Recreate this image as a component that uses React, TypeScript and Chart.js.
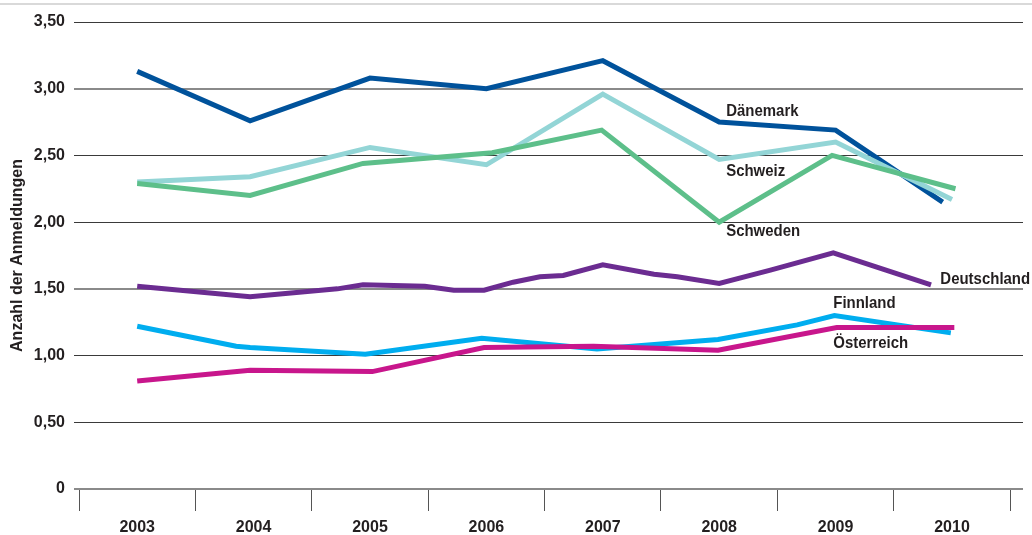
import React, { useEffect, useRef } from "react";
import { Chart, registerables } from "chart.js";

Chart.register(...registerables);

// ---- data (x = year position, y = Anzahl der Anmeldungen) ----
const years = [2003, 2004, 2005, 2006, 2007, 2008, 2009, 2010];
const yTicks = [0, 0.5, 1, 1.5, 2, 2.5, 3, 3.5];

const daenemark: [number, number][] = [
  [2003, 3.13], [2003.97, 2.76], [2005, 3.08], [2006, 3.0], [2007, 3.21],
  [2008, 2.75], [2009, 2.69], [2009.92, 2.15],
];
const schweiz: [number, number][] = [
  [2003, 2.3], [2003.97, 2.34], [2005, 2.56], [2006, 2.43], [2007, 2.96],
  [2008, 2.47], [2009, 2.6], [2010, 2.17],
];
const schweden: [number, number][] = [
  [2003, 2.29], [2003.97, 2.2], [2004.94, 2.44], [2006.05, 2.52], [2006.99, 2.69],
  [2008, 2.0], [2008.97, 2.5], [2010.03, 2.25],
];
const deutschland: [number, number][] = [
  [2003, 1.52], [2003.97, 1.44], [2004.72, 1.5], [2004.94, 1.53], [2005.47, 1.52],
  [2005.72, 1.49], [2005.98, 1.49], [2006.23, 1.55], [2006.46, 1.59], [2006.66, 1.6],
  [2007, 1.68], [2007.44, 1.61], [2007.64, 1.59], [2008, 1.54], [2008.44, 1.64],
  [2008.98, 1.77], [2009.82, 1.53],
];
const finnland: [number, number][] = [
  [2003, 1.22], [2003.85, 1.07], [2003.97, 1.06], [2004.96, 1.01], [2005.96, 1.13],
  [2006.95, 1.05], [2007.99, 1.12], [2008.67, 1.23], [2008.99, 1.3], [2009.99, 1.17],
];
const oesterreich: [number, number][] = [
  [2003, 0.81], [2003.97, 0.89], [2005.02, 0.88], [2005.98, 1.06], [2006.92, 1.07],
  [2007.99, 1.04], [2009.01, 1.21], [2010.02, 1.21],
];

// ---- series styling & direct labels ----
const series = [
  { name: "Österreich", pts: oesterreich, color: "#c8168c" },
  { name: "Finnland", pts: finnland, color: "#00adef" },
  { name: "Deutschland", pts: deutschland, color: "#6b2c91" },
  { name: "Schweden", pts: schweden, color: "#5dbf8a" },
  { name: "Schweiz", pts: schweiz, color: "#93d5d6" },
  { name: "Dänemark", pts: daenemark, color: "#00529b" },
];

const seriesLabels = [
  { text: "Dänemark", x: 2008.06, y: 2.83 },
  { text: "Schweiz", x: 2008.06, y: 2.38 },
  { text: "Schweden", x: 2008.06, y: 1.93 },
  { text: "Deutschland", x: 2009.9, y: 1.57 },
  { text: "Finnland", x: 2008.98, y: 1.39 },
  { text: "Österreich", x: 2008.98, y: 1.09 },
];

const SANS = "'Liberation Sans', Arial, Helvetica, sans-serif";
const TEXT = "#231f20";

export default function App() {
  const ref = useRef<HTMLCanvasElement | null>(null);

  useEffect(() => {
    if (!ref.current) return;

    const topLine = {
      id: "topLine",
      beforeDraw(chart: any) {
        const ctx = chart.ctx;
        ctx.save();
        ctx.fillStyle = "#fff";
        ctx.fillRect(0, 0, chart.width, chart.height);
        ctx.fillStyle = "#d9d9d9";
        ctx.fillRect(0, 3, chart.width, 2);
        ctx.restore();
      },
    };

    const labelPlugin = {
      id: "seriesLabels",
      afterDatasetsDraw(chart: any) {
        const ctx = chart.ctx;
        const xs = chart.scales.x;
        const ys = chart.scales.y;
        const sx = 0.88;
        ctx.save();
        ctx.font = `bold 17px ${SANS}`;
        ctx.fillStyle = TEXT;
        ctx.textAlign = "left";
        ctx.textBaseline = "middle";
        for (const l of seriesLabels) {
          const px = xs.getPixelForValue(l.x);
          const py = ys.getPixelForValue(l.y);
          ctx.save();
          ctx.translate(px, py);
          ctx.scale(sx, 1);
          ctx.fillText(l.text, 0, 0);
          ctx.restore();
        }
        ctx.restore();
      },
    };

    const chart = new Chart(ref.current, {
      type: "line",
      data: {
        datasets: series.map((s) => ({
          label: s.name,
          data: s.pts.map(([x, y]) => ({ x, y })),
          borderColor: s.color,
          backgroundColor: s.color,
          borderWidth: 5,
          pointRadius: 0,
          tension: 0,
          fill: false,
          borderJoinStyle: "miter" as const,
        })),
      },
      options: {
        responsive: false,
        animation: false,
        devicePixelRatio: 1,
        layout: { padding: { top: 22, right: 9, left: 0, bottom: 0 } },
        plugins: {
          legend: { display: false },
          tooltip: { enabled: false },
        },
        scales: {
          x: {
            type: "linear",
            min: 2002.5,
            max: 2010.61,
            afterBuildTicks: (scale: any) => {
              const t: any[] = [];
              for (let i = 0; i <= years.length; i++) {
                t.push({ value: years[0] - 0.5 + i });
                if (i < years.length) t.push({ value: years[i] });
              }
              scale.ticks = t;
            },
            afterFit: (scale: any) => {
              scale.height = 46;
            },
            ticks: {
              autoSkip: false,
              maxRotation: 0,
              minRotation: 0,
              padding: 7,
              color: TEXT,
              font: { family: SANS, size: 16, weight: "bold" },
              callback: (v: any) => (Number.isInteger(v) ? String(v) : ""),
            },
            grid: {
              drawOnChartArea: false,
              drawTicks: true,
              tickLength: 22,
              lineWidth: 1,
              color: (ctx: any) =>
                ctx.tick && Number.isInteger(ctx.tick.value) ? "rgba(0,0,0,0)" : "#555",
            },
            border: { display: false },
          },
          y: {
            min: 0,
            max: 3.5,
            afterBuildTicks: (scale: any) => {
              scale.ticks = yTicks.map((v) => ({ value: v }));
            },
            afterFit: (scale: any) => {
              scale.width = 79;
            },
            ticks: {
              padding: 9,
              color: TEXT,
              font: { family: SANS, size: 16, weight: "bold" },
              callback: (v: any) => (v === 0 ? "0" : Number(v).toFixed(2).replace(".", ",")),
            },
            grid: {
              drawTicks: true,
              tickLength: 5,
              color: (ctx: any) => {
                const v = ctx.tick ? ctx.tick.value : -1;
                return v === 0 || v === 1.5 || v === 3 ? "#8a8a8a" : "#3a3a3a";
              },
              lineWidth: (ctx: any) => {
                const v = ctx.tick ? ctx.tick.value : -1;
                return v === 0 || v === 1.5 || v === 3 ? 2 : 1;
              },
            },
            border: { display: false },
            title: {
              display: true,
              text: "Anzahl der Anmeldungen",
              color: TEXT,
              font: { family: SANS, size: 16, weight: "bold" },
              padding: { top: 8, bottom: 0 },
            },
          },
        },
      },
      plugins: [topLine, labelPlugin],
    });

    return () => chart.destroy();
  }, []);

  return (
    <div style={{ position: "fixed", left: 0, top: 0, width: 1032, height: 535, background: "#fff" }}>
      <canvas ref={ref} width={1032} height={535} style={{ display: "block" }} />
    </div>
  );
}
